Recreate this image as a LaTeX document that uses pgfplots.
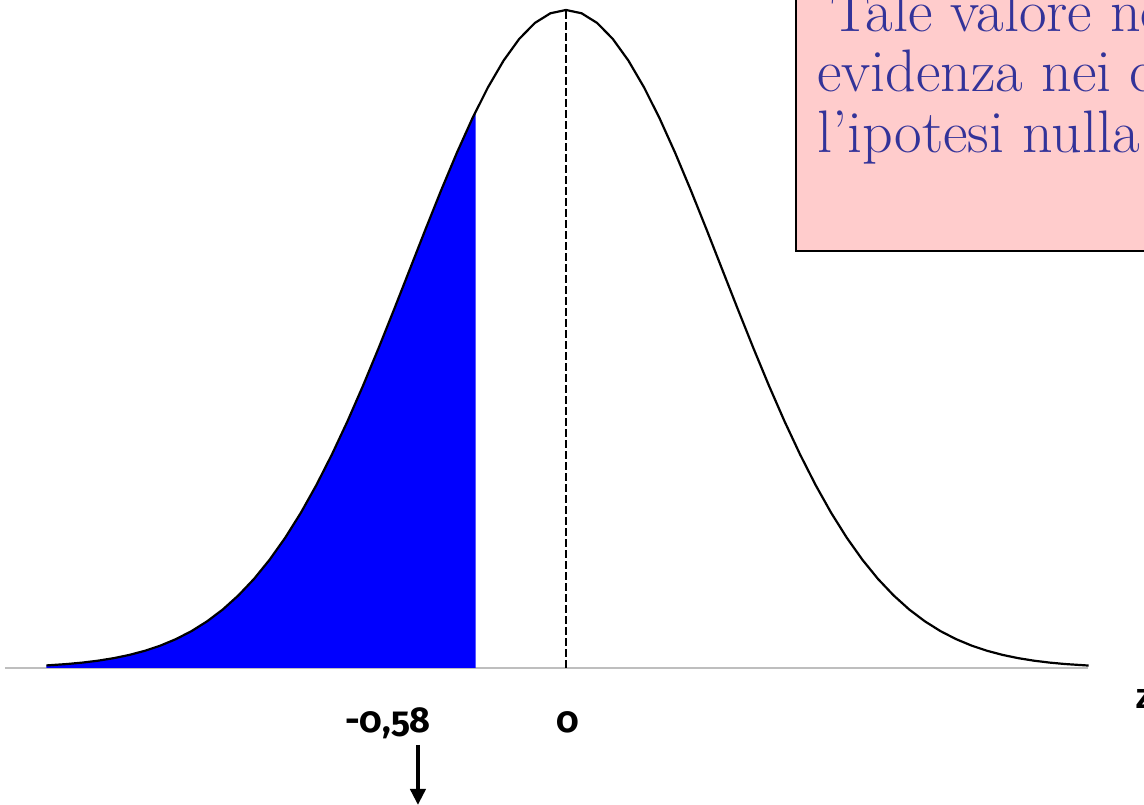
\documentclass[border=0pt]{standalone}
\usepackage{fontspec}
\usepackage{pgfplots}
\pgfplotsset{compat=1.18}
\usetikzlibrary{arrows.meta}
\newfontfamily\labelfont[Numbers=OldStyle]{Fira Sans}
\newfontfamily\zfont{Liberation Sans}
\definecolor{boxpink}{HTML}{FFCCCC}
\definecolor{boxtext}{HTML}{333399}
\definecolor{axisgray}{HTML}{BEBEBE}

\begin{document}
\begin{tikzpicture}
\begin{axis}[
  scale only axis, width=572pt, height=402.5pt,
  xmin=-3.628, xmax=3.705, ymin=-0.2082, ymax=1.0152,
  hide axis, clip=false,
]
% z axis line
\addplot[axisgray, line width=1pt] coordinates {(-3.596,0) (3.346,0)};
% left tail up to z = -0.58
\addplot[fill=blue, draw=none] coordinates {
 (-3.33,0) (-3.33,0.0039) (-3.2,0.0060) (-3.1,0.0082) (-3.0,0.0111) (-2.9,0.0149)
 (-2.8,0.0198) (-2.7,0.0261) (-2.6,0.0340) (-2.5,0.0439) (-2.4,0.0561)
 (-2.3,0.0710) (-2.2,0.0889) (-2.1,0.1103) (-2.0,0.1353) (-1.9,0.1645)
 (-1.8,0.1979) (-1.7,0.2357) (-1.6,0.2780) (-1.5,0.3247) (-1.4,0.3753)
 (-1.3,0.4296) (-1.2,0.4868) (-1.1,0.5461) (-1.0,0.6065) (-0.9,0.6670)
 (-0.8,0.7261) (-0.7,0.7827) (-0.6,0.8353) (-0.58,0.8452) (-0.58,0)
};
% standard normal density (peak scaled to 1)
\addplot[black, line width=1.1pt] coordinates {
 (-3.33,0.0039) (-3.2,0.0060) (-3.1,0.0082) (-3.0,0.0111) (-2.9,0.0149)
 (-2.8,0.0198) (-2.7,0.0261) (-2.6,0.0340) (-2.5,0.0439) (-2.4,0.0561)
 (-2.3,0.0710) (-2.2,0.0889) (-2.1,0.1103) (-2.0,0.1353) (-1.9,0.1645)
 (-1.8,0.1979) (-1.7,0.2357) (-1.6,0.2780) (-1.5,0.3247) (-1.4,0.3753)
 (-1.3,0.4296) (-1.2,0.4868) (-1.1,0.5461) (-1.0,0.6065) (-0.9,0.6670)
 (-0.8,0.7261) (-0.7,0.7827) (-0.6,0.8353) (-0.5,0.8825) (-0.4,0.9231)
 (-0.3,0.9560) (-0.2,0.9802) (-0.1,0.9950) (0,1)
 (0.1,0.9950) (0.2,0.9802) (0.3,0.9560) (0.4,0.9231) (0.5,0.8825)
 (0.6,0.8353) (0.7,0.7827) (0.8,0.7261) (0.9,0.6670) (1.0,0.6065)
 (1.1,0.5461) (1.2,0.4868) (1.3,0.4296) (1.4,0.3753) (1.5,0.3247)
 (1.6,0.2780) (1.7,0.2357) (1.8,0.1979) (1.9,0.1645) (2.0,0.1353)
 (2.1,0.1103) (2.2,0.0889) (2.3,0.0710) (2.4,0.0561) (2.5,0.0439)
 (2.6,0.0340) (2.7,0.0261) (2.8,0.0198) (2.9,0.0149) (3.0,0.0111)
 (3.1,0.0082) (3.2,0.0060) (3.35,0.0037)
};
% mean
\addplot[black, line width=0.6pt, dash pattern=on 4pt off 1.5pt] coordinates {(0,0) (0,1)};

% comment box
\draw[fill=boxpink, draw=black, line width=1.2pt]
  (axis cs:1.474,0.6337) rectangle (axis cs:4.3,1.2);
\begin{scope}[every node/.style={anchor=base west, inner sep=0pt, text=boxtext,
    font=\fontsize{30}{30}\selectfont}]
  \node at (axis cs:1.69,0.9666) {Tale valore non fornisce};
  \node at (axis cs:1.609,0.8754) {evidenza nei confronti del};
  \node at (axis cs:1.609,0.7827) {l’ipotesi nulla};
\end{scope}

% labels under the axis
\begin{scope}[every node/.style={anchor=base, inner sep=0pt,
    font=\labelfont\bfseries\fontsize{18}{22}\selectfont}]
  \node at (axis cs:-1.141,-0.0973) {-0,58};
  \node at (axis cs:0.013,-0.0973) {0};
\end{scope}
\node[anchor=base west, inner sep=0pt, font=\zfont\bfseries\fontsize{18}{22}\selectfont]
  at (axis cs:3.647,-0.0608) {z};
\draw[black, line width=2pt, -{Triangle[length=8pt,width=7.5pt]}]
  (axis cs:-0.949,-0.117) -- (axis cs:-0.949,-0.2082);
\end{axis}
\pgfresetboundingbox
\useasboundingbox (current axis.south west) rectangle (current axis.north east);
\end{tikzpicture}
\end{document}
